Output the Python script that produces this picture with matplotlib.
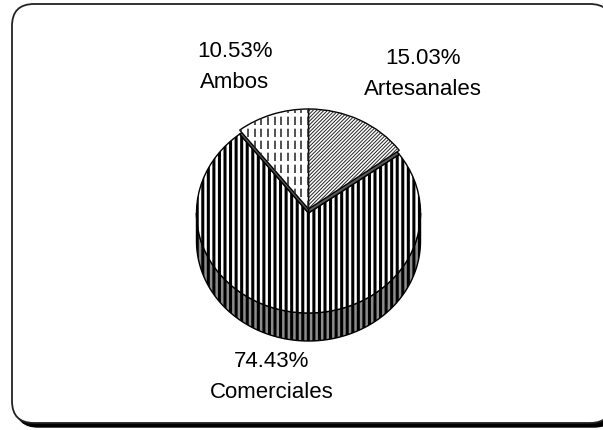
import matplotlib
matplotlib.use("Agg")
import matplotlib.pyplot as plt
from matplotlib.patches import Wedge, Polygon, FancyBboxPatch
from matplotlib.collections import LineCollection
from matplotlib.transforms import Affine2D
import numpy as np

labels = ["Artesanales", "Comerciales", "Ambos"]
values = [15.03, 74.43, 10.53]
label_pos = [(423, 74), (272, 377), (235, 67)]   # pixel centres of label blocks

W, H = 603, 431
plt.rcParams["hatch.linewidth"] = 2.2


def py(y):
    return H - y


fig = plt.figure(figsize=(W / 100, H / 100), dpi=100)
ax = fig.add_axes([0, 0, 1, 1])

# frame with shadow
shadow = FancyBboxPatch((16, py(428)), 600, 419, boxstyle="round,pad=0,rounding_size=22",
                        facecolor="black", edgecolor="black", lw=1, zorder=0)
box = FancyBboxPatch((12, py(424)), 600, 419, boxstyle="round,pad=0,rounding_size=22",
                     facecolor="white", edgecolor="#222222", lw=1.3, zorder=0.5)
ax.add_patch(shadow)
ax.add_patch(box)

cx, cy = 308.5, py(210)   # centre of the raised slices
rx, ry = 112.0, 100.0
k = ry / rx
drop = 4        # Comerciales sits a bit lower
depth = 28

wedges, _ = ax.pie(values, startangle=90, counterclock=False, center=(cx, cy), radius=rx,
                   colors=["white"] * 3, wedgeprops=dict(edgecolor="black", linewidth=1))
tilt = Affine2D().translate(-cx, -cy).scale(1, k).translate(cx, cy) + ax.transData
for w in wedges:
    w.set_transform(tilt)

art, com, amb = wedges
com.set_center((cx, cy - drop / k))
com.set_hatch("|||")
com.set_zorder(3)
art.set_zorder(5)
amb.set_zorder(5)

# front side wall of Comerciales
t = np.radians(np.linspace(180, 360, 200))
ccy = cy - drop
top = np.column_stack([cx + rx * np.cos(t), ccy + ry * np.sin(t)])
bot = top[::-1] - [0, depth]
wall = Polygon(np.vstack([top, bot]), closed=True, facecolor="#8c8c8c", edgecolor="black",
               lw=1, hatch="|||", zorder=2)
ax.add_patch(wall)

# thin side bands of the raised slices
for w in (art, amb):
    side = Wedge((cx, cy - drop / k), rx, w.theta1, w.theta2, facecolor="#5a5a5a",
                 edgecolor="black", lw=1, transform=tilt, zorder=4)
    ax.add_patch(side)

# fine diagonal texture of Artesanales
offs = np.arange(-130, 130, 3.6)
segs = [[(cx + o - 10, cy - 10), (cx + o + 130, cy + 130)] for o in offs]
diag = LineCollection(segs, colors="#222222", linewidths=0.7, zorder=6)
ax.add_collection(diag)
diag.set_clip_path(art)

# dashed texture of Ambos
xs = np.arange(cx - 74, cx, 6.7)
dl = ax.vlines(xs, cy, cy + rx, colors="#333333", linewidth=1.2,
               linestyles=[(0, (5, 2.2))], zorder=6)
dl.set_clip_path(amb)

for lab, v, (x, y) in zip(labels, values, label_pos):
    ax.text(x, py(y), f"{v:.2f}%\n{lab}", ha="center", va="center", fontsize=16,
            family="Liberation Sans", linespacing=1.62, zorder=7)

ax.set_xlim(0, W)
ax.set_ylim(0, H)
ax.set_aspect("auto")
ax.axis("off")
fig.savefig("out.png", dpi=100)
